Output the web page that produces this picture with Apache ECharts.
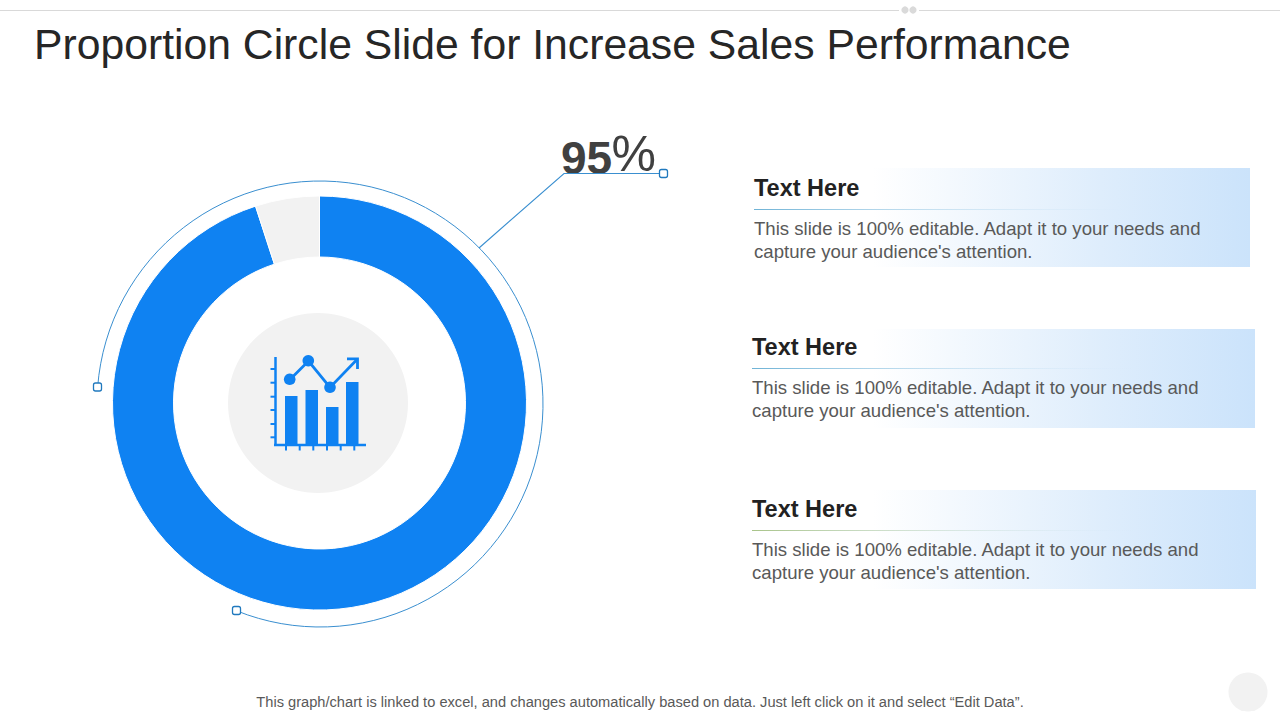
<!DOCTYPE html>
<html>
<head>
<meta charset="utf-8">
<title>Proportion Circle Slide</title>
<script src="https://cdn.jsdelivr.net/npm/echarts@6/dist/echarts.min.js"></script>
<style>
  html, body { margin: 0; padding: 0; background: #fff; }
  #chart { width: 1280px; height: 720px; }
</style>
</head>
<body>
<div id="chart"></div>
<script>
// data
const categories = ['Achieved', 'Remaining'];
const values = [95, 5];
const titleText = 'Proportion Circle Slide for Increase Sales Performance';
const footerText = 'This graph/chart is linked to excel, and changes automatically based on data. Just left click on it and select \u201CEdit Data\u201D.';
const panelTitles = ['Text Here', 'Text Here', 'Text Here'];
const panelLine1 = [
  'This slide is 100% editable. Adapt it to your needs and',
  'This slide is 100% editable. Adapt it to your needs and',
  'This slide is 100% editable. Adapt it to your needs and',
];
const panelLine2 = [
  "capture your audience's attention.",
  "capture your audience's attention.",
  "capture your audience's attention.",
];

// layout
const FONT = '"Liberation Sans", Arial, sans-serif';
const BLUE = '#0F82F2';
const LINE = '#3A8FD0';
const PANELS = [
  { x: 754, top: 168, right: 1250, dy: 0, rule: '#6FB3D6' },
  { x: 752, top: 329, right: 1255, dy: -2, rule: '#6FB3D6' },
  { x: 752, top: 490, right: 1256, dy: -1, rule: '#A9C48A' },
];

const handle = (cx, cy) => ({
  type: 'rect',
  shape: { x: cx - 4, y: cy - 4, width: 8, height: 8, r: 2 },
  style: { fill: '#fff', stroke: '#2079BE', lineWidth: 1.3 },
});

const seg = (x1, y1, x2, y2, w, color) => ({
  type: 'line',
  shape: { x1, y1, x2, y2 },
  style: { stroke: color || BLUE, lineWidth: w },
});

const text = (x, y, t, font, fill, extra) => ({
  type: 'text', x, y,
  style: { text: t, font, fill, textVerticalAlign: 'middle', ...extra },
});

function panelEls(p, i) {
  return [
    {
      type: 'rect',
      shape: { x: p.x, y: p.top, width: p.right - p.x, height: 99 },
      style: {
        fill: new echarts.graphic.LinearGradient(0, 0, 1, 0, [
          { offset: 0, color: '#FFFFFF' },
          { offset: 0.24, color: '#FFFFFF' },
          { offset: 0.7, color: '#DEEDFC' },
          { offset: 1, color: '#CBE3FB' },
        ]),
      },
    },
    // thin rect, a gradient on a flat line has an empty bounding box in svg
    {
      type: 'rect',
      shape: { x: p.x, y: p.top + 41 + p.dy, width: p.right - 120 - p.x, height: 1 },
      style: {
        fill: new echarts.graphic.LinearGradient(0, 0, 1, 0, [
          { offset: 0, color: p.rule },
          { offset: 1, color: 'rgba(200,225,245,0)' },
        ]),
      },
    },
    text(p.x, p.top + 20 + p.dy, panelTitles[i], 'bold 23.5px ' + FONT, '#222222'),
    text(p.x, p.top + 60 + p.dy, panelLine1[i], '18.6px ' + FONT, '#595959'),
    text(p.x, p.top + 83 + p.dy, panelLine2[i], '18.6px ' + FONT, '#595959'),
  ];
}

// small chart icon in the middle of the ring
const iconBars = [[285, 396, 12.5], [305.5, 390, 12.5], [326, 407, 12.5], [346, 382, 12.5]];
const iconEls = [
  seg(275.5, 357, 275.5, 446, 2.5),
  seg(274, 445, 366, 445, 2.5),
  ...[369, 382.7, 396.7, 410, 424, 437.3].map(y => seg(270.5, y, 275.5, y, 2)),
  ...[286, 299.7, 313.3, 327, 340.7, 354.3].map(x => seg(x, 445, x, 450.5, 2)),
  ...iconBars.map(b => ({
    type: 'rect',
    shape: { x: b[0], y: b[1], width: b[2], height: 445 - b[1] },
    style: { fill: BLUE },
  })),
  {
    type: 'polyline',
    shape: { points: [[290, 379.5], [308.5, 361], [330, 387.5], [357.5, 359]] },
    style: { fill: 'none', stroke: BLUE, lineWidth: 2.8 },
  },
  {
    type: 'polyline',
    shape: { points: [[347, 358.8], [357.5, 358.8], [357.5, 369]] },
    style: { fill: 'none', stroke: BLUE, lineWidth: 2.8 },
  },
  ...[[289.7, 379.3], [308.3, 360.7], [330, 387.3]].map(c => ({
    type: 'circle',
    shape: { cx: c[0], cy: c[1], r: 5.8 },
    style: { fill: BLUE },
  })),
];

const c = echarts.init(document.getElementById('chart'), null, { renderer: 'svg' });
c.setOption({
  animation: false,
  backgroundColor: '#fff',
  color: [BLUE, '#F2F2F2'],
  series: [{
    type: 'pie',
    silent: true,
    center: [319.5, 403],
    radius: [146, 207],
    startAngle: 90,
    clockwise: true,
    label: { show: false },
    labelLine: { show: false },
    itemStyle: { borderColor: '#fff', borderWidth: 1 },
    data: categories.map((name, i) => ({ name, value: values[i] })),
  }],
  graphic: { elements: [
    // top rule with the two dots
    seg(0, 10.5, 899, 10.5, 1, '#D9D9D9'),
    seg(919, 10.5, 1280, 10.5, 1, '#D9D9D9'),
    { type: 'circle', shape: { cx: 905, cy: 10, r: 3.6 }, style: { fill: '#DADADA' } },
    { type: 'circle', shape: { cx: 913, cy: 10, r: 3.6 }, style: { fill: '#DADADA' } },

    text(34, 43.5, titleText, '42.7px ' + FONT, '#262626'),

    // centre disc + icon
    { type: 'circle', shape: { cx: 318, cy: 403, r: 90 }, style: { fill: '#F2F2F2' } },
    ...iconEls,

    // thin outer arc with its handles
    {
      type: 'arc',
      shape: { cx: 320, cy: 404, r: 223, startAngle: 184.4 * Math.PI / 180, endAngle: 112 * Math.PI / 180, clockwise: true },
      style: { fill: 'none', stroke: LINE, lineWidth: 1 },
    },
    handle(97.5, 387),
    handle(236.5, 610.5),

    // value and leader
    text(561, 158, String(values[0]), 'bold 46px ' + FONT, '#404040'),
    text(611.5, 154, '%', '50px ' + FONT, '#404040'),
    { type: 'polyline', shape: { points: [[479, 248], [564, 173.5], [660, 173.5]] }, style: { fill: 'none', stroke: LINE, lineWidth: 1.1 } },
    handle(663.5, 173.5),

    ...PANELS.flatMap(panelEls),

    text(640, 702, footerText, '14.65px ' + FONT, '#595959', { textAlign: 'center' }),
    { type: 'circle', shape: { cx: 1248, cy: 692, r: 19.5 }, style: { fill: '#F2F2F2' } },
  ] },
});
</script>
</body>
</html>
